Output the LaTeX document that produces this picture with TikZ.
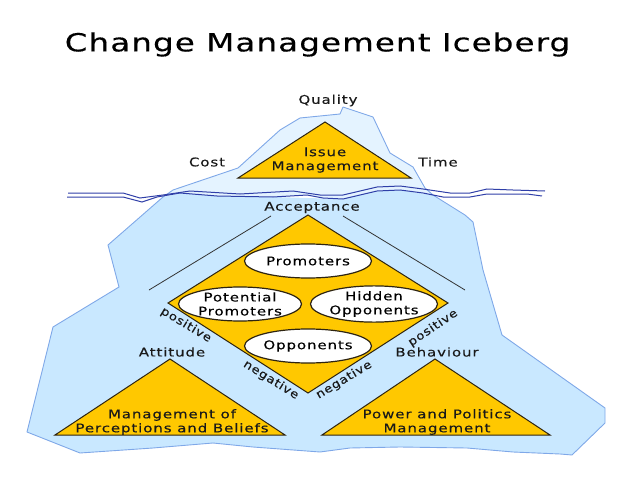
\documentclass[tikz,border=0pt]{standalone}
\usepackage{fontspec}
\usetikzlibrary{shapes.geometric}
\setmainfont[FakeStretch=1.25,LetterSpace=7.5,FakeBold=0.25]{DejaVu Sans}
\newfontfamily\rotfont[FakeStretch=1.15,LetterSpace=6,FakeBold=0.2]{DejaVu Sans}
\newfontfamily\titlefont[FakeStretch=1.3,LetterSpace=4.5,FakeBold=0.3]{DejaVu Sans}
\definecolor{berg}{HTML}{C9E8FF}
\definecolor{bergtop}{HTML}{E4F3FF}
\definecolor{bergline}{HTML}{7FA8E8}
\definecolor{gold}{HTML}{FFC800}
\definecolor{edge}{HTML}{2E2410}
\definecolor{water}{HTML}{2F3FA8}
\tikzset{
  solid shape/.style={fill=gold,draw=edge,line width=1pt,line join=miter},
  oval/.style={ellipse,draw=edge,fill=white,line width=1.2pt,inner sep=0pt,align=center,
    font=\fontsize{12}{14}\selectfont},
  lbl/.style={inner sep=0pt,align=center,text=black!90,font=\fontsize{12}{14}\selectfont},
  rotlbl/.style={inner sep=0pt,text=black!90,font=\rotfont\fontsize{11.5}{14}\selectfont},
  wave/.style={draw=water,line width=1pt},
  guide/.style={draw=black!80,line width=0.8pt}
}
\begin{document}
\begin{tikzpicture}[x=1pt,y=-1pt]
\useasboundingbox (0,0) rectangle (638,479);
\node[inner sep=0pt,text=black,font=\titlefont\fontsize{25}{30}\selectfont] (title) at (317.5,44.5) {Change Management Iceberg};
% iceberg
\fill[berg] (163,197) -- (108,245) -- (119,287) -- (53,327) -- (27,432) -- (80,453) -- (153,448) -- (213,443) -- (253,447) -- (320,452) -- (350,448) -- (400,447) -- (467,448) -- (513,452) -- (560,454) -- (572,455) -- (605,423) -- (605,408) -- (502,335) -- (483,270) -- (473,222) -- (465,215) -- (433,195) -- (400,190) -- (377,191) -- (343,199) -- (273,197) -- (180,193) -- cycle;
\fill[bergtop] (163,197) -- (173,190) -- (238,168) -- (280,130) -- (300,118) -- (340,114) -- (343,107) -- (373,117) -- (390,153) -- (413,167) -- (425,188) -- (433,195) -- (423,193) -- (400,190) -- (377,191) -- (343,199) -- (323,198) -- (307,195) -- (273,197) -- (217,196) -- (180,193) -- cycle;
\draw[bergline,line width=0.9pt,line join=round] (163,197) -- (173,190) -- (238,168) -- (280,130) -- (300,118) -- (340,114) -- (343,107) -- (373,117) -- (390,153) -- (413,167) -- (425,188) -- (433,195) -- (465,215) -- (473,222) -- (483,270) -- (502,335) -- (605,408) -- (605,423) -- (572,455) -- (560,454) -- (513,452) -- (467,448) -- (400,447) -- (350,448) -- (320,452) -- (253,447) -- (213,443) -- (153,448) -- (80,453) -- (27,432) -- (53,327) -- (119,287) -- (108,245) -- cycle;
% water
\draw[wave] (68,193) -- (123,193) -- (140,198) -- (163,195) -- (190,191) -- (240,194) -- (293,191) -- (320,195) -- (343,195) -- (377,187) -- (400,186) -- (423,189) -- (450,193) -- (470,193) -- (487,189) -- (513,190) -- (545,191);
\draw[wave] (67,197) -- (123,197) -- (142,202) -- (157,197) -- (180,193) -- (217,196) -- (273,197) -- (307,195) -- (323,198) -- (343,199) -- (377,191) -- (400,190) -- (423,193) -- (443,197) -- (470,197) -- (487,194) -- (527,194) -- (542,196);
% guides
\coordinate (gla) at (271,216); \coordinate (glb) at (149,290);
\coordinate (gra) at (343,216); \coordinate (grb) at (465,290);
\draw[guide] (gla) -- (glb);
\draw[guide] (gra) -- (grb);
% triangles and diamond
\draw[solid shape] (325,122) -- (411,178) -- (238,178) -- cycle;
\draw[solid shape] (308,215) -- (448,303) -- (308,393) -- (168,303) -- cycle;
\draw[solid shape] (170,359) -- (285,435) -- (55,435) -- cycle;
\draw[solid shape] (435,359) -- (550,435) -- (322,435) -- cycle;
% ellipses
\node[oval,minimum width=127pt,minimum height=34pt] (promoters) at (308,261) {Promoters};
\node[oval,minimum width=123pt,minimum height=34pt] (potential) at (240,304) {Potential\\Promoters};
\node[oval,minimum width=127pt,minimum height=34pt] (hidden) at (374,304) {Hidden\\Opponents};
\node[oval,minimum width=127pt,minimum height=34pt] (opponents) at (308,346) {Opponents};
% labels
\node[lbl] (quality) at (328,100.5) {Quality};
\node[lbl] (cost) at (207,162) {Cost};
\node[lbl] (time) at (438,162) {Time};
\node[lbl] (issue) at (325,160) {Issue\\Management};
\node[lbl] (acceptance) at (312,207.5) {Acceptance};
\node[lbl] (attitude) at (172,352) {Attitude};
\node[lbl] (behaviour) at (437,352) {Behaviour};
\node[lbl] (perceptions) at (172,422) {Management of\\Perceptions and Beliefs};
\node[lbl] (power) at (437,422) {Power and Politics\\Management};
\node[rotlbl,rotate=-31] (posl) at (186,325) {positive};
\node[rotlbl,rotate=-32] (negl) at (271,380) {negative};
\node[rotlbl,rotate=31] (negr) at (344,380) {negative};
\node[rotlbl,rotate=34] (posr) at (433,328) {positive};
\end{tikzpicture}
\end{document}
